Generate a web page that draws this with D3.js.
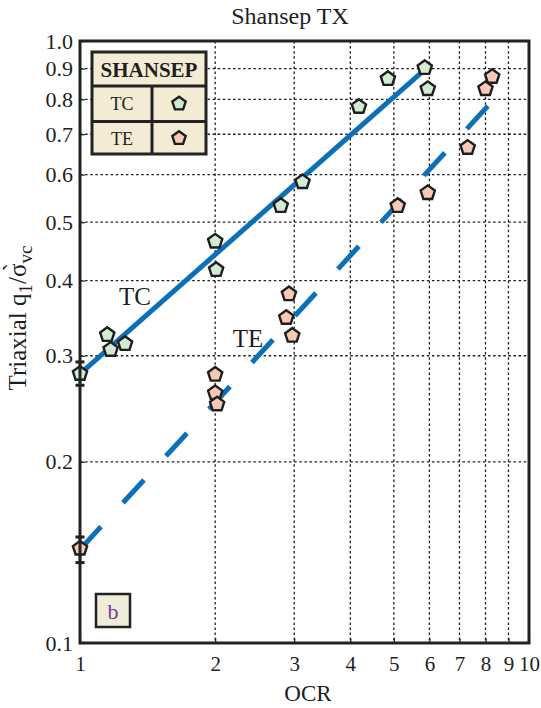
<!DOCTYPE html>
<html>
<head>
<meta charset="utf-8">
<script src="https://cdn.jsdelivr.net/npm/d3@7"></script>
<style>
  html, body { margin: 0; padding: 0; background: #ffffff; }
  svg { display: block; }
  text { font-family: "Liberation Serif", "Times New Roman", serif; fill: #1e1e1e; }
</style>
</head>
<body>
<div id="chart"></div>
<script>
// Triaxial strength ratio vs. OCR (SHANSEP, Texas clay)
const xTicks = [1, 2, 3, 4, 5, 6, 7, 8, 9, 10];
const yTicks = [0.1, 0.2, 0.3, 0.4, 0.5, 0.6, 0.7, 0.8, 0.9, 1.0];
const yTickLabels = ["0.1", "0.2", "0.3", "0.4", "0.5", "0.6", "0.7", "0.8", "0.9", "1.0"];

// Compression (TC) tests
const tcOCR = [1, 1.15, 1.17, 1.26, 2, 2.01, 2.8, 3.13, 4.18, 4.85, 5.86, 5.95];
const tcQ   = [0.281, 0.326, 0.308, 0.315, 0.466, 0.418, 0.534, 0.585, 0.78, 0.868, 0.905, 0.835];
// Extension (TE) tests
const teOCR = [1, 2, 2, 2.02, 2.92, 2.88, 2.97, 5.1, 5.95, 7.3, 8.0, 8.28];
const teQ   = [0.144, 0.28, 0.261, 0.25, 0.381, 0.348, 0.325, 0.534, 0.561, 0.667, 0.835, 0.875];

// Scatter of normally consolidated values (low, high)
const tcErr = [0.268, 0.293];
const teErr = [0.136, 0.150];

// SHANSEP fit lines (end points)
const tcLineOCR = [1, 5.8];
const tcLineQ   = [0.28, 0.89];
const teLineOCR = [1, 8.23];
const teLineQ   = [0.143, 0.79];

const W = 541, H = 708;
const mLeft = 80, mRight = 529, mTop = 41, mBottom = 643;

const svg = d3.select("#chart").append("svg").attr("width", W).attr("height", H);

const x = d3.scaleLog().domain([1, 10]).range([mLeft, mRight]);
const y = d3.scaleLog().domain([0.1, 1]).range([mBottom, mTop]);

const blue = "#0c70b9";
const ink = "#1e1e1e";

// Dotted grid
const grid = svg.append("g").attr("stroke", ink).attr("stroke-width", 1.3).attr("stroke-dasharray", "2.5,2.6");
grid.selectAll("line.v").data(xTicks.slice(1, -1)).join("line").attr("class", "v")
  .attr("x1", d => x(d)).attr("x2", d => x(d)).attr("y1", mTop).attr("y2", mBottom);
grid.selectAll("line.h").data(yTicks.slice(1, -1)).join("line").attr("class", "h")
  .attr("x1", mLeft).attr("x2", mRight).attr("y1", d => y(d)).attr("y2", d => y(d));

// Axes (labels only; frame drawn separately)
const xAxis = d3.axisBottom(x).tickValues(xTicks).tickFormat(d3.format("d")).tickSize(-5).tickPadding(13);
const gx = svg.append("g").attr("transform", `translate(0,${mBottom})`).call(xAxis);
gx.select(".domain").remove();
gx.selectAll(".tick line").attr("stroke", ink).attr("stroke-width", 1.2);
gx.selectAll(".tick text").attr("font-size", 21).attr("font-family", "Liberation Serif").attr("fill", ink);

const yAxis = d3.axisLeft(y).tickValues(yTicks).tickFormat((d, i) => yTickLabels[i]).tickSize(-5).tickPadding(7);
const gy = svg.append("g").attr("transform", `translate(${mLeft},0)`).call(yAxis);
gy.select(".domain").remove();
gy.selectAll(".tick line").attr("stroke", ink).attr("stroke-width", 1.2);
gy.selectAll(".tick text").attr("font-size", 22).attr("font-family", "Liberation Serif").attr("fill", ink);

// Fit lines
const line = d3.line().x(d => x(d[0])).y(d => y(d[1]));
svg.append("path").datum(d3.zip(tcLineOCR, tcLineQ)).attr("d", line)
  .attr("fill", "none").attr("stroke", blue).attr("stroke-width", 5);
svg.append("path").datum(d3.zip(teLineOCR, teLineQ)).attr("d", line)
  .attr("fill", "none").attr("stroke", blue).attr("stroke-width", 5)
  .attr("stroke-dasharray", "31,32.5");

// Pentagon marker path around (cx, cy)
function pentagon(cx, cy, r) {
  const pts = d3.range(5).map(k => {
    const a = -Math.PI / 2 + k * 2 * Math.PI / 5;
    return [cx + r * Math.cos(a), cy + r * Math.sin(a) + r * 0.1];
  });
  return "M" + pts.map(p => p.join(",")).join("L") + "Z";
}

// Error bars at OCR = 1
function errBar(lo, hi) {
  const g = svg.append("g").attr("stroke", ink);
  g.append("line").attr("x1", x(1)).attr("x2", x(1)).attr("y1", y(lo)).attr("y2", y(hi)).attr("stroke-width", 2.5);
  [lo, hi].forEach(v => g.append("line").attr("x1", x(1) - 4.5).attr("x2", x(1) + 4.5)
    .attr("y1", y(v)).attr("y2", y(v)).attr("stroke-width", 3));
}
errBar(tcErr[0], tcErr[1]);
errBar(teErr[0], teErr[1]);

const tcFill = "#d3ebd2", teFill = "#f8cab6";
function drawPoints(xs, ys, fill) {
  svg.append("g").selectAll("path").data(d3.zip(xs, ys)).join("path")
    .attr("d", d => pentagon(x(d[0]), y(d[1]), 7.5))
    .attr("fill", fill).attr("stroke", ink).attr("stroke-width", 2.4).attr("stroke-linejoin", "miter");
}
drawPoints(tcOCR, tcQ, tcFill);
drawPoints(teOCR, teQ, teFill);

// Frame
svg.append("rect").attr("x", mLeft).attr("y", mTop).attr("width", mRight - mLeft).attr("height", mBottom - mTop)
  .attr("fill", "none").attr("stroke", "#222").attr("stroke-width", 3);

// Legend table
const lg = svg.append("g");
const lx0 = 92, lx1 = 206, ly0 = 52, ly1 = 154, lr1 = 86, lr2 = 121.5, lcol = 152;
lg.append("rect").attr("x", lx0).attr("y", ly0).attr("width", lx1 - lx0).attr("height", ly1 - ly0)
  .attr("fill", "#f3ebd3").attr("stroke", "#222").attr("stroke-width", 3);
lg.append("line").attr("x1", lx0).attr("x2", lx1).attr("y1", lr1).attr("y2", lr1).attr("stroke", "#222").attr("stroke-width", 3);
lg.append("line").attr("x1", lx0).attr("x2", lx1).attr("y1", lr2).attr("y2", lr2).attr("stroke", "#222").attr("stroke-width", 3);
lg.append("line").attr("x1", lcol).attr("x2", lcol).attr("y1", lr1).attr("y2", ly1).attr("stroke", "#222").attr("stroke-width", 3);
lg.append("text").attr("x", (lx0 + lx1) / 2).attr("y", 76.5).attr("text-anchor", "middle")
  .attr("font-size", 21).attr("font-weight", "bold").text("SHANSEP");
lg.append("text").attr("x", 122).attr("y", 110).attr("text-anchor", "middle").attr("font-size", 18).text("TC");
lg.append("text").attr("x", 122).attr("y", 145).attr("text-anchor", "middle").attr("font-size", 18).text("TE");
lg.append("path").attr("d", pentagon(179, 103, 7)).attr("fill", tcFill).attr("stroke", ink).attr("stroke-width", 2.4);
lg.append("path").attr("d", pentagon(179, 137.5, 7)).attr("fill", teFill).attr("stroke", ink).attr("stroke-width", 2.4);

// Panel tag
svg.append("rect").attr("x", 96).attr("y", 594).attr("width", 34).attr("height", 33)
  .attr("fill", "#efedda").attr("stroke", "#222").attr("stroke-width", 2.5);
svg.append("text").attr("x", 113).attr("y", 619).attr("text-anchor", "middle")
  .attr("font-size", 22).style("fill", "#7b3c8c").text("b");

// Line labels
svg.append("text").attr("x", 135).attr("y", 305).attr("text-anchor", "middle").attr("font-size", 25).text("TC");
svg.append("text").attr("x", 248).attr("y", 347).attr("text-anchor", "middle").attr("font-size", 25).text("TE");

// Titles
svg.append("text").attr("x", 290).attr("y", 24).attr("text-anchor", "middle").attr("font-size", 24).text("Shansep TX");
svg.append("text").attr("x", 308).attr("y", 701).attr("text-anchor", "middle").attr("font-size", 23).text("OCR");

const yl = svg.append("text").attr("transform", "translate(26,318) rotate(-90)")
  .attr("text-anchor", "middle").attr("font-size", 25);
yl.append("tspan").text("Triaxial q");
yl.append("tspan").attr("font-size", 19).attr("dy", 6).text("1");
yl.append("tspan").attr("dy", -6).text("/\u03C3\u0300");
yl.append("tspan").attr("font-size", 19).attr("dy", 6).text("vc");
</script>
</body>
</html>
